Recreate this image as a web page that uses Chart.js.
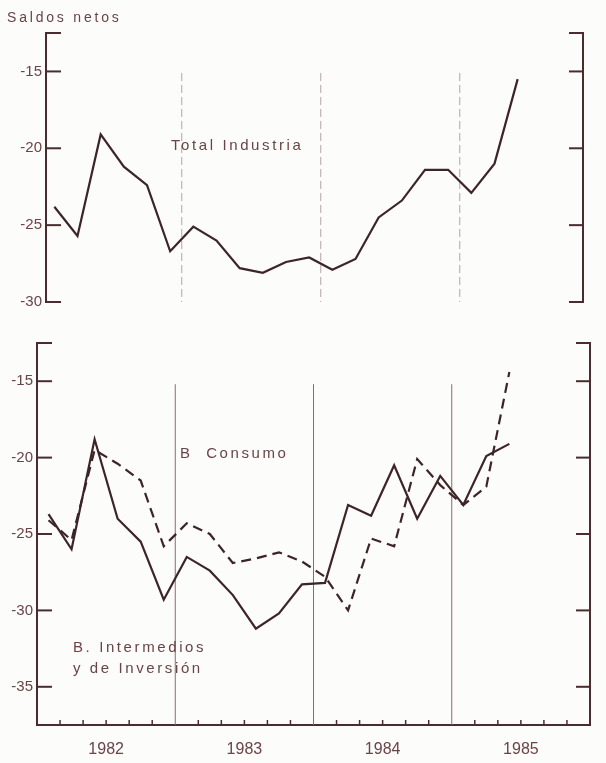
<!DOCTYPE html>
<html>
<head>
<meta charset="utf-8">
<script src="https://cdn.jsdelivr.net/npm/chart.js@4/dist/chart.umd.min.js"></script>
<style>
  body { margin: 0; background: #fcfcfb; }
  #wrap { position: relative; width: 606px; height: 763px; overflow: hidden; }
  canvas { position: absolute; left: 0; }
  .note {
    position: absolute; font-family: "Liberation Sans", sans-serif; font-size: 15px;
    letter-spacing: 2.6px; color: #6a4446; white-space: pre; line-height: 18px;
  }
</style>
</head>
<body>
<div id="wrap">
  <canvas id="topChart" width="606" height="330" style="top:0"></canvas>
  <canvas id="bottomChart" width="606" height="433" style="top:330px"></canvas>
  <div class="note" style="left:7px; top:8px; font-size:14px; letter-spacing:2.8px">Saldos netos</div>
  <div class="note" style="left:171px; top:136px">Total Industria</div>
  <div class="note" style="left:180px; top:444px">B  Consumo</div>
  <div class="note" style="left:73px; top:638px">B. Intermedios</div>
  <div class="note" style="left:73px; top:659px">y de Inversión</div>
</div>
<script>
const periods = ['Ene-Feb 1982', 'Mar-Abr 1982', 'May-Jun 1982', 'Jul-Ago 1982', 'Sep-Oct 1982', 'Nov-Dic 1982',
                 'Ene-Feb 1983', 'Mar-Abr 1983', 'May-Jun 1983', 'Jul-Ago 1983', 'Sep-Oct 1983', 'Nov-Dic 1983',
                 'Ene-Feb 1984', 'Mar-Abr 1984', 'May-Jun 1984', 'Jul-Ago 1984', 'Sep-Oct 1984', 'Nov-Dic 1984',
                 'Ene-Feb 1985', 'Mar-Abr 1985', 'May-Jun 1985'];
const years = ['1982', '1983', '1984', '1985'];
const topTicks = [-30, -25, -20, -15];
const bottomTicks = [-35, -30, -25, -20, -15];

const totalIndustria = [-23.8, -25.7, -19.1, -21.2, -22.4, -26.7, -25.1, -26.0, -27.8, -28.1, -27.4, -27.1,
                        -27.9, -27.2, -24.5, -23.4, -21.4, -21.4, -22.9, -21.0, -15.5];
const bIntermedios = [-23.7, -26.0, -18.8, -24.0, -25.5, -29.3, -26.5, -27.4, -29.0, -31.2, -30.2, -28.3,
                      -28.2, -23.1, -23.8, -20.5, -24.0, -21.2, -23.1, -19.9, -19.1];
const bConsumo = [-24.1, -25.4, -19.5, -20.4, -21.5, -25.8, -24.3, -25.0, -26.9, -26.6, -26.2, -26.8,
                  -27.8, -30.0, -25.3, -25.8, -20.1, -21.8, -23.1, -21.9, -14.4];

const INK = '#3c2427';
const AXIS = '#4a2c30';
const TEXT = '#6a4446';
const SLOTS_PER_YEAR = 6;

// each bimonthly value sits in the middle of its slot
const toPoints = (vals) => vals.map((v, i) => ({ x: i + 0.5, y: v }));

// inward ticks on the bracket axes, year dividers, small ticks on the time axis
const inkTicks = {
  id: 'inkTicks',
  beforeDatasetsDraw(chart, args, opts) {
    const { ctx, chartArea: a, scales: { x, y } } = chart;
    const seg = (x1, y1, x2, y2) => { ctx.beginPath(); ctx.moveTo(x1, y1); ctx.lineTo(x2, y2); ctx.stroke(); };
    ctx.save();
    ctx.strokeStyle = AXIS;
    ctx.lineWidth = 2;
    const marks = y.ticks.map(t => t.value).concat([y.max]);
    marks.forEach(v => {
      const py = y.getPixelForValue(v);
      seg(a.left, py, a.left + 15, py);
      seg(a.right - 14, py, a.right, py);
    });
    if (opts.minorTicks) {
      ctx.lineWidth = 1.5;
      for (let i = 1; i < years.length * SLOTS_PER_YEAR; i++) {
        if (i % SLOTS_PER_YEAR === 0) continue;
        const px = x.getPixelForValue(i);
        seg(px, a.bottom, px, a.bottom - 5);
      }
    }
    ctx.strokeStyle = opts.dividerColor;
    ctx.lineWidth = 1;
    ctx.setLineDash(opts.dividerDash);
    for (let k = 1; k < years.length; k++) {
      const px = x.getPixelForValue(k * SLOTS_PER_YEAR);
      seg(px, y.getPixelForValue(opts.dividerFrom), px, a.bottom);
    }
    ctx.restore();
  }
};

function yAxes(min, tickValues, leftWidth, rightWidth) {
  const setTicks = s => { s.ticks = tickValues.map(v => ({ value: v })); };
  return {
    y: {
      min: min, max: -12.5,
      afterBuildTicks: setTicks,
      afterFit: s => { s.width = leftWidth; },
      border: { color: AXIS, width: 2 },
      grid: { drawOnChartArea: false, drawTicks: false },
      ticks: { padding: 4, color: TEXT, font: { family: 'Liberation Sans', size: 15 } }
    },
    y2: {
      position: 'right',
      min: min, max: -12.5,
      afterBuildTicks: setTicks,
      afterFit: s => { s.width = rightWidth; },
      border: { color: AXIS, width: 2 },
      grid: { drawOnChartArea: false, drawTicks: false },
      ticks: { display: false }
    }
  };
}

const lineStyle = { borderColor: INK, borderWidth: 2.2, pointRadius: 0, tension: 0, fill: false };

new Chart(document.getElementById('topChart'), {
  type: 'line',
  data: {
    datasets: [{ label: 'Total Industria', data: toPoints(totalIndustria), ...lineStyle }]
  },
  options: {
    responsive: false,
    animation: false,
    layout: { padding: { top: 33, bottom: 28, left: 0, right: 0 } },
    plugins: {
      legend: { display: false }, tooltip: { enabled: false },
      inkTicks: { dividerFrom: -15.1, dividerColor: '#b3a3a4', dividerDash: [8, 4], minorTicks: false }
    },
    scales: {
      x: { type: 'linear', min: 0.14, max: 23.32, display: false },
      ...yAxes(-30, topTicks, 46, 23)
    }
  },
  plugins: [inkTicks]
});

new Chart(document.getElementById('bottomChart'), {
  type: 'line',
  data: {
    datasets: [
      { label: 'B. Intermedios y de Inversión', data: toPoints(bIntermedios), ...lineStyle },
      { label: 'B. Consumo', data: toPoints(bConsumo), ...lineStyle, borderDash: [10, 6] }
    ]
  },
  options: {
    responsive: false,
    animation: false,
    layout: { padding: { top: 11, bottom: 0, left: 0, right: 0 } },
    plugins: {
      legend: { display: false }, tooltip: { enabled: false },
      inkTicks: { dividerFrom: -15.2, dividerColor: '#8a6a6e', dividerDash: [], minorTicks: true }
    },
    scales: {
      x: {
        type: 'linear', min: 0, max: years.length * SLOTS_PER_YEAR,
        afterFit: s => { s.height = 38; },
        afterBuildTicks: s => { s.ticks = years.map((_, k) => ({ value: k * SLOTS_PER_YEAR + 3 })); },
        border: { color: AXIS, width: 2 },
        grid: { drawOnChartArea: false, drawTicks: false },
        ticks: {
          autoSkip: false, maxRotation: 0, padding: 15, color: TEXT,
          font: { family: 'Liberation Sans', size: 16 },
          callback: v => years[(v - 3) / SLOTS_PER_YEAR]
        }
      },
      ...yAxes(-37.5, bottomTicks, 37, 16)
    }
  },
  plugins: [inkTicks]
});
</script>
</body>
</html>
